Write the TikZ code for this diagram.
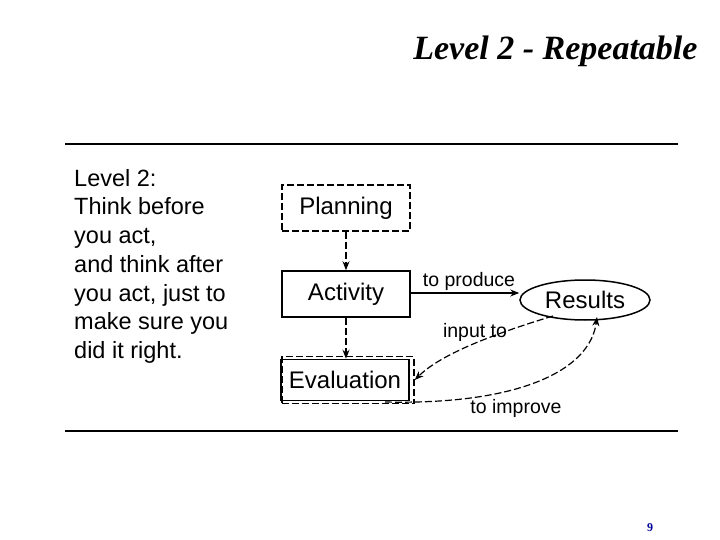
\documentclass[tikz,border=0pt]{standalone}
\usepackage{fontspec}
\setmainfont{Liberation Sans}
\newfontfamily\tnr{Liberation Serif}
\usetikzlibrary{shapes.geometric,arrows.meta}
\begin{document}
\begin{tikzpicture}[x=1pt,y=-1pt,
  dsh/.style={dash pattern=on 7pt off 3pt},
  box/.style={draw,line width=1.5pt,minimum width=128pt,minimum height=46pt,font=\fontsize{24}{27}\selectfont,inner sep=0pt},
  dbox/.style={box,dsh},
  conn/.style={line width=1.2pt,-{Stealth[length=9pt,width=7pt]}},
  lab/.style={font=\fontsize{19.5}{22}\selectfont}]
\useasboundingbox (0,0) rectangle (720,540);
\node[anchor=base east,font=\tnr\bfseries\itshape\fontsize{34}{40}\selectfont] (title) at (701,60) {Level 2 - Repeatable};
\draw[line width=1.5pt] (65,144) coordinate (l1) -- (678,144) coordinate (l2);
\draw[line width=1.5pt] (65,431) coordinate (l3) -- (678,431) coordinate (l4);
\node[anchor=north west,align=left,font=\fontsize{23.5}{28.7}\selectfont,inner sep=0pt] (txt) at (74,169)
 {Level 2:\\Think before\\you act,\\and think after\\you act, just to\\make sure you\\did it right.};
\node[dbox] (plan) at (346,208) {\raisebox{-7pt}{Planning}};
\node[box] (act) at (346,294) {Activity};
\node[box,minimum width=128pt,minimum height=41pt] (ev) at (345,380) {Evaluation};
\node[dbox,minimum width=132pt,minimum height=47pt] (evd) at (348,380) {};
\node[ellipse,draw,line width=1.5pt,minimum width=130pt,minimum height=40pt,font=\fontsize{24}{27}\selectfont,inner sep=0pt] (res) at (585,300) {\raisebox{-2pt}{Results}};
\draw[conn,dsh] (plan) -- (act);
\draw[conn,dsh] (act) -- (ev.north -| act);
\draw[conn] (act.east |- 0,293) -- (res.west |- 0,293);
\node[lab] (tp) at (469,281) {to produce};
\draw[conn,dsh] (553,316) .. controls (490,335) and (440,355) .. (evd.east);
\node[lab] (it) at (475,332) {input to};
\draw[conn,dsh] (385,402) .. controls (520,405) and (590,370) .. (597,317);
\node[lab] (ti) at (516,408) {to improve};
\node[text=blue!60!black,font=\tnr\bfseries\fontsize{12}{14}\selectfont] (pg) at (650,528) {9};
\end{tikzpicture}
\end{document}
